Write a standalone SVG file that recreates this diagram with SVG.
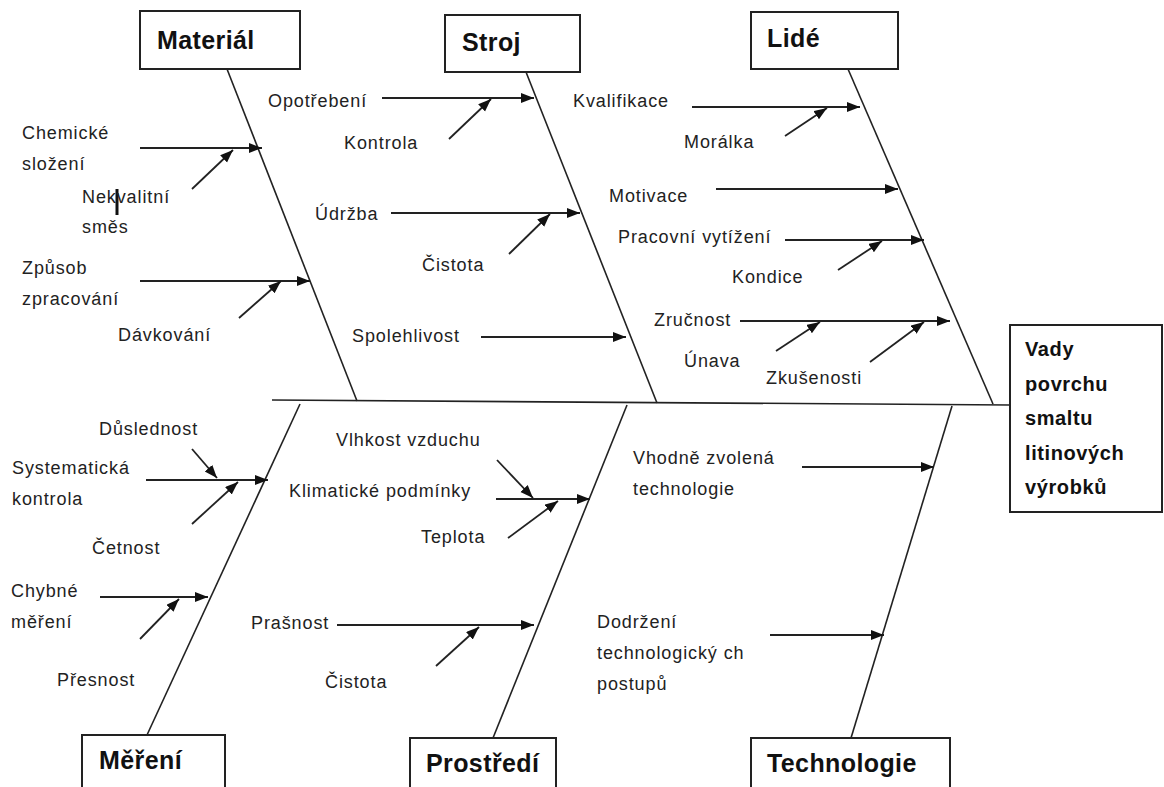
<svg xmlns="http://www.w3.org/2000/svg" width="1164" height="787" viewBox="0 0 1164 787">
<style>
.box{fill:#fff;stroke:#222;stroke-width:2}
.h{font-family:"Liberation Sans",Arial,sans-serif;font-weight:bold;font-size:25px;fill:#111;letter-spacing:0.4px}
.e{font-family:"Liberation Sans",Arial,sans-serif;font-weight:bold;font-size:20px;fill:#111;letter-spacing:0.6px}
.t{font-family:"Liberation Sans",Arial,sans-serif;font-size:18px;fill:#222;letter-spacing:0.9px}
.bone{stroke:#222;stroke-width:1.6;fill:none}
.a{stroke:#222;stroke-width:1.8;fill:none;marker-end:url(#ah)}
</style>
<defs>
<marker id="ah" markerUnits="userSpaceOnUse" markerWidth="14" markerHeight="11" refX="13" refY="5" orient="auto">
<path d="M0,0 L13,5 L0,10 z" fill="#111"/>
</marker>
</defs>
<rect width="1164" height="787" fill="#fff"/>

<g id="connectors">
<line class="bone" x1="272" y1="400" x2="1010" y2="405"/>
<line class="bone" x1="227" y1="69" x2="357" y2="401"/>
<line class="bone" x1="526" y1="72" x2="657" y2="403"/>
<line class="bone" x1="848" y1="69" x2="993" y2="404"/>
<line class="bone" x1="300" y1="404" x2="147" y2="735"/>
<line class="bone" x1="627" y1="405" x2="493" y2="738"/>
<line class="bone" x1="952" y1="406" x2="851" y2="738"/>

<line class="a" x1="140" y1="148" x2="262" y2="148"/>
<line class="a" x1="192" y1="189" x2="233" y2="150"/>
<line class="a" x1="140" y1="281" x2="310" y2="281"/>
<line class="a" x1="239" y1="318" x2="281" y2="281"/>
<line x1="117" y1="189" x2="117" y2="215" stroke="#111" stroke-width="3"/>

<line class="a" x1="382" y1="98" x2="534" y2="98"/>
<line class="a" x1="449" y1="139" x2="491" y2="99"/>
<line class="a" x1="391" y1="213" x2="580" y2="213"/>
<line class="a" x1="509" y1="254" x2="550" y2="214"/>
<line class="a" x1="481" y1="337" x2="626" y2="337"/>

<line class="a" x1="692" y1="107" x2="860" y2="107"/>
<line class="a" x1="785" y1="136" x2="827" y2="108"/>
<line class="a" x1="716" y1="189" x2="898" y2="189"/>
<line class="a" x1="785" y1="240" x2="924" y2="240"/>
<line class="a" x1="838" y1="270" x2="882" y2="241"/>
<line class="a" x1="740" y1="321" x2="950" y2="321"/>
<line class="a" x1="776" y1="351" x2="820" y2="322"/>
<line class="a" x1="870" y1="362" x2="924" y2="322"/>

<line class="a" x1="192" y1="449" x2="217" y2="478"/>
<line class="a" x1="146" y1="480" x2="268" y2="480"/>
<line class="a" x1="192" y1="524" x2="238" y2="482"/>
<line class="a" x1="100" y1="597" x2="208" y2="597"/>
<line class="a" x1="140" y1="639" x2="179" y2="599"/>

<line class="a" x1="497" y1="460" x2="533" y2="498"/>
<line class="a" x1="496" y1="499" x2="590" y2="499"/>
<line class="a" x1="508" y1="538" x2="558" y2="501"/>
<line class="a" x1="337" y1="625" x2="534" y2="625"/>
<line class="a" x1="436" y1="666" x2="479" y2="627"/>

<line class="a" x1="802" y1="467" x2="934" y2="467"/>
<line class="a" x1="770" y1="635" x2="884" y2="635"/>
</g>

<g id="material">
<rect class="box" x="140" y="11" width="160" height="58"/>
<text class="h" x="157" y="49">Materiál</text>
<text class="t" x="22" y="139">Chemické</text>
<text class="t" x="22" y="170">složení</text>
<text class="t" x="82" y="203">Nekvalitní</text>
<text class="t" x="82" y="233">směs</text>
<text class="t" x="22" y="274">Způsob</text>
<text class="t" x="22" y="305">zpracování</text>
<text class="t" x="118" y="341">Dávkování</text>
</g>

<g id="stroj">
<rect class="box" x="445" y="15" width="135" height="57"/>
<text class="h" x="462" y="51">Stroj</text>
<text class="t" x="268" y="107">Opotřebení</text>
<text class="t" x="344" y="149">Kontrola</text>
<text class="t" x="315" y="220">Údržba</text>
<text class="t" x="422" y="271">Čistota</text>
<text class="t" x="352" y="342">Spolehlivost</text>
</g>

<g id="lide">
<rect class="box" x="751" y="12" width="147" height="57"/>
<text class="h" x="767" y="47">Lidé</text>
<text class="t" x="573" y="107">Kvalifikace</text>
<text class="t" x="684" y="148">Morálka</text>
<text class="t" x="609" y="202">Motivace</text>
<text class="t" x="618" y="243">Pracovní vytížení</text>
<text class="t" x="732" y="283">Kondice</text>
<text class="t" x="654" y="326">Zručnost</text>
<text class="t" x="684" y="367">Únava</text>
<text class="t" x="766" y="384">Zkušenosti</text>
</g>

<g id="effect">
<rect class="box" x="1010" y="325" width="152" height="187"/>
<text class="e" x="1025" y="356">Vady</text>
<text class="e" x="1025" y="391">povrchu</text>
<text class="e" x="1025" y="425">smaltu</text>
<text class="e" x="1025" y="460">litinových</text>
<text class="e" x="1025" y="494">výrobků</text>
</g>

<g id="mereni">
<rect class="box" x="82" y="735" width="143" height="60"/>
<text class="h" x="99" y="769">Měření</text>
<text class="t" x="99" y="435">Důslednost</text>
<text class="t" x="12" y="474">Systematická</text>
<text class="t" x="12" y="505">kontrola</text>
<text class="t" x="92" y="554">Četnost</text>
<text class="t" x="11" y="597">Chybné</text>
<text class="t" x="11" y="628">měření</text>
<text class="t" x="57" y="686">Přesnost</text>
</g>

<g id="prostredi">
<rect class="box" x="410" y="738" width="146" height="60"/>
<text class="h" x="426" y="772">Prostředí</text>
<text class="t" x="336" y="446">Vlhkost vzduchu</text>
<text class="t" x="289" y="497">Klimatické podmínky</text>
<text class="t" x="421" y="543">Teplota</text>
<text class="t" x="251" y="629">Prašnost</text>
<text class="t" x="325" y="688">Čistota</text>
</g>

<g id="technologie">
<rect class="box" x="751" y="738" width="199" height="60"/>
<text class="h" x="767" y="772">Technologie</text>
<text class="t" x="633" y="464">Vhodně zvolená</text>
<text class="t" x="633" y="495">technologie</text>
<text class="t" x="597" y="628">Dodržení</text>
<text class="t" x="597" y="659">technologický ch</text>
<text class="t" x="597" y="690">postupů</text>
</g>
</svg>
